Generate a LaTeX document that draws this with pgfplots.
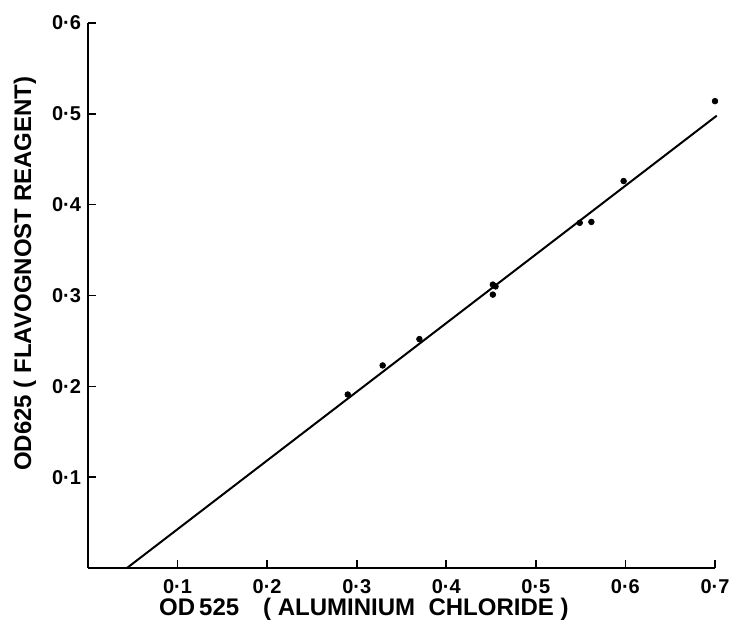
\documentclass[border=0pt]{standalone}
\usepackage{fontspec}
\setmainfont{Liberation Sans}
\usepackage{pgfplots}
\pgfplotsset{compat=1.18}

\begin{document}
\begin{tikzpicture}
\begin{axis}[
    at={(0,0)}, anchor=origin,
    scale only axis,
    width=313.5pt, height=272.5pt,
    xmin=0, xmax=0.7,
    ymin=0, ymax=0.6,
    axis lines=left,
    axis line style={-, line width=1pt},
    tick align=inside,
    major tick length=4pt,
    tick style={line width=0.8pt, black},
    xtick={0.1,0.2,0.3,0.4,0.5,0.6,0.7},
    xticklabels={0·1,0·2,0·3,0·4,0·5,0·6,0·7},
    ytick={0.1,0.2,0.3,0.4,0.5,0.6},
    yticklabels={0·1,0·2,0·3,0·4,0·5,0·6},
    ticklabel style={font=\bfseries\fontsize{10}{12}\selectfont},
    xticklabel style={yshift=-2pt},
    xlabel={OD\,525\quad( ALUMINIUM\ \ CHLORIDE )},
    ylabel={OD625 ( FLAVOGNOST REAGENT)},
    label style={font=\bfseries\fontsize{12}{14}\selectfont},
    xlabel style={at={(axis description cs:0.44,-0.0755)}, anchor=center},
    ylabel style={at={(axis description cs:-0.1005,0.54)}, anchor=center},
    clip=false,
]
% fitted line
\addplot[black, line width=1pt, mark=none] coordinates {
    (0.0435,0) (0.702,0.498)
};
% measured points
\addplot[only marks, mark=*, mark size=1.4pt, black] coordinates {
    (0.290,0.191)
    (0.329,0.223)
    (0.370,0.252)
    (0.452,0.301)
    (0.452,0.312)
    (0.455,0.310)
    (0.549,0.380)
    (0.562,0.381)
    (0.598,0.426)
    (0.700,0.514)
};
\end{axis}
\pgfresetboundingbox
\path (-44pt,-30pt) rectangle (320.5pt,284pt);
\end{tikzpicture}
\end{document}
